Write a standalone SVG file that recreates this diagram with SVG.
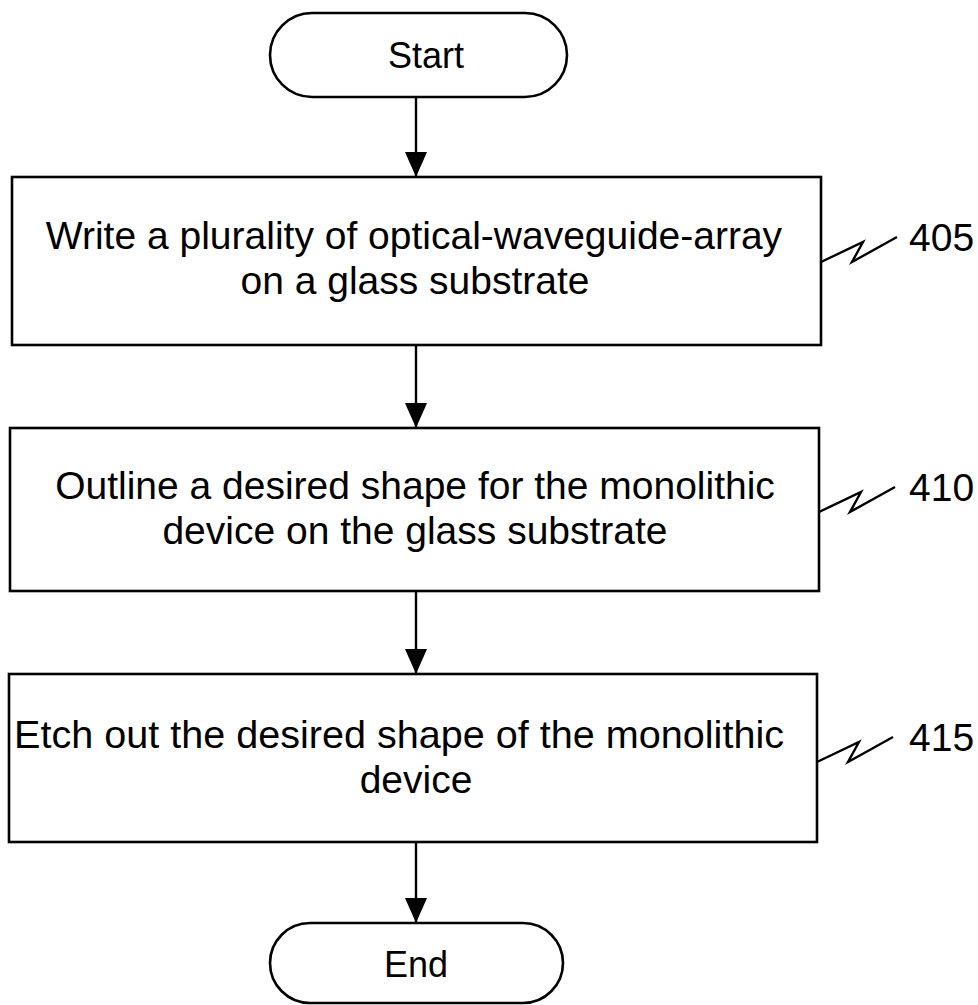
<svg xmlns="http://www.w3.org/2000/svg" width="978" height="1005" viewBox="0 0 978 1005">
  <style>
    .shape { fill: #fff; stroke: #000; stroke-width: 2.6; }
    .line { fill: none; stroke: #000; stroke-width: 2.4; }
    .txt { font-family: "Liberation Sans", Arial, sans-serif; font-size: 39px; fill: #000; text-anchor: middle; }
    .term { font-family: "Liberation Sans", Arial, sans-serif; font-size: 36px; fill: #000; text-anchor: middle; }
    .ref { font-family: "Liberation Sans", Arial, sans-serif; font-size: 39px; fill: #000; }
  </style>
  <defs>
    <!-- filled arrowhead, drawn pointing along +x so orient="auto" turns it with the line -->
    <marker id="arrow" markerUnits="userSpaceOnUse" markerWidth="26" markerHeight="22" refX="25" refY="11" orient="auto" viewBox="0 0 26 22">
      <path d="M0,0 L25,11 L0,22 Z" fill="#000"/>
    </marker>
  </defs>
  <rect width="978" height="1005" fill="#fff"/>

  <g id="connectors">
    <line class="line" x1="416" y1="97" x2="416" y2="177" marker-end="url(#arrow)"/>
    <line class="line" x1="416" y1="345" x2="416" y2="428" marker-end="url(#arrow)"/>
    <line class="line" x1="416" y1="591" x2="416" y2="674" marker-end="url(#arrow)"/>
    <line class="line" x1="416" y1="842" x2="416" y2="923" marker-end="url(#arrow)"/>
  </g>

  <g id="start">
    <rect class="shape" x="270" y="13" width="297" height="84" rx="42" ry="42"/>
    <text class="term" x="426" y="68">Start</text>
  </g>

  <g id="step405">
    <rect class="shape" x="12" y="177" width="809" height="168"/>
    <text class="txt" x="414" y="249">Write a plurality of optical-waveguide-array</text>
    <text class="txt" x="415" y="294">on a glass substrate</text>
    <path class="line" d="M821,262 L863,242 L852,262 L897,237"/>
    <text class="ref" x="909" y="251">405</text>
  </g>

  <g id="step410">
    <rect class="shape" x="10" y="428" width="809" height="163"/>
    <text class="txt" x="415" y="499">Outline a desired shape for the monolithic</text>
    <text class="txt" x="415" y="544">device on the glass substrate</text>
    <path class="line" d="M819,512 L861,492 L850,512 L895,487"/>
    <text class="ref" x="909" y="501">410</text>
  </g>

  <g id="step415">
    <rect class="shape" x="9" y="674" width="808" height="168"/>
    <text class="txt" x="399" y="748" textLength="770" lengthAdjust="spacingAndGlyphs">Etch out the desired shape of the monolithic</text>
    <text class="txt" x="416" y="793">device</text>
    <path class="line" d="M817,762 L859,742 L848,762 L893,737"/>
    <text class="ref" x="909" y="751">415</text>
  </g>

  <g id="end">
    <rect class="shape" x="270" y="923" width="293" height="80" rx="40" ry="40"/>
    <text class="term" x="416" y="977">End</text>
  </g>
</svg>
